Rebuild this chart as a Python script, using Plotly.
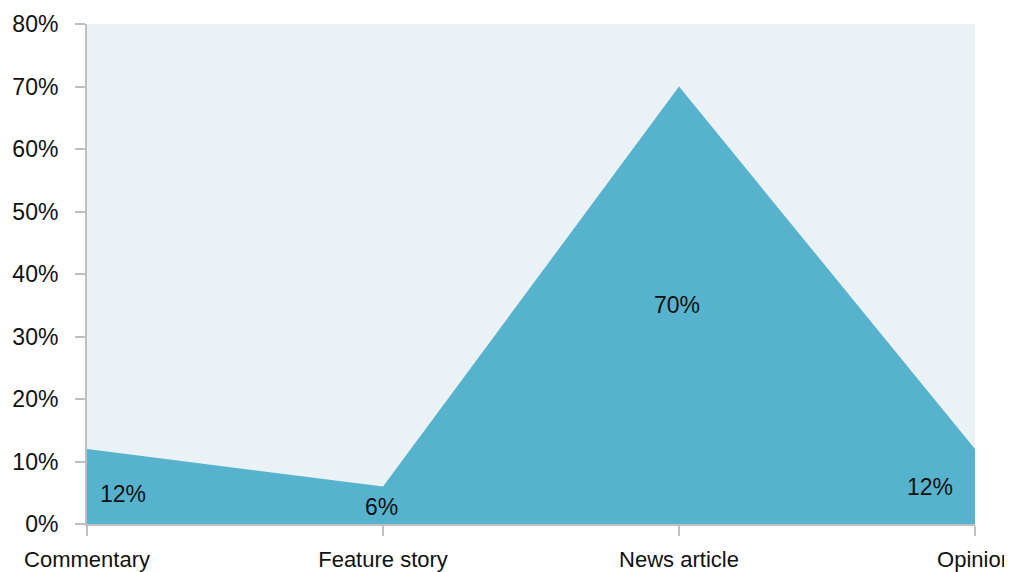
import plotly.graph_objects as go

categories = ["Commentary", "Feature story", "News article", "Opinion"]
shares = [12, 6, 70, 12]
label_texts = ["12%", "6%", "70%", "12%"]
y_tick_vals = [0, 10, 20, 30, 40, 50, 60, 70, 80]
y_tick_text = ["0%", "10%", "20%", "30%", "40%", "50%", "60%", "70%", "80%"]

FILL = "#57B3CD"
BG = "#EAF2F6"
AXIS = "#BFBFBF"
FONT = "Liberation Sans, Arial, sans-serif"

fig = go.Figure()
fig.add_trace(go.Scatter(
    x=categories, y=shares, mode="lines", fill="tozeroy",
    line=dict(color=FILL, width=0), fillcolor=FILL, hoverinfo="skip",
    showlegend=False,
))

xshifts = [36, -2, -2, -45]
yshifts = [-7, -2, 0, 0]
for c, v, t, xs, ys in zip(categories, shares, label_texts, xshifts, yshifts):
    fig.add_annotation(x=c, y=v / 2, text=t, showarrow=False,
                       xshift=xs, yshift=ys,
                       font=dict(family=FONT, size=23, color="#111111"))

fig.update_layout(
    width=1012, height=572,
    margin=dict(l=79, r=45, t=16, b=56),
    paper_bgcolor="white", plot_bgcolor=BG,
    font=dict(family=FONT, size=23, color="#111111"),
    xaxis=dict(
        type="category", range=[0, 3], showgrid=False, zeroline=False,
        showline=True, linecolor=AXIS, linewidth=2,
        ticks="outside", ticklen=10, tickwidth=2, tickcolor=AXIS,
        automargin=False, ticklabelstandoff=5,
        tickfont=dict(family=FONT, size=22, color="#111111"),
    ),
    yaxis=dict(
        range=[0, 80], tickvals=y_tick_vals, ticktext=y_tick_text,
        showgrid=False, zeroline=False,
        showline=True, linecolor=AXIS, linewidth=2,
        ticks="outside", ticklen=10, tickwidth=2, tickcolor=AXIS,
        automargin=False, ticklabelstandoff=12,
    ),
)

fig.write_html("out.html")
